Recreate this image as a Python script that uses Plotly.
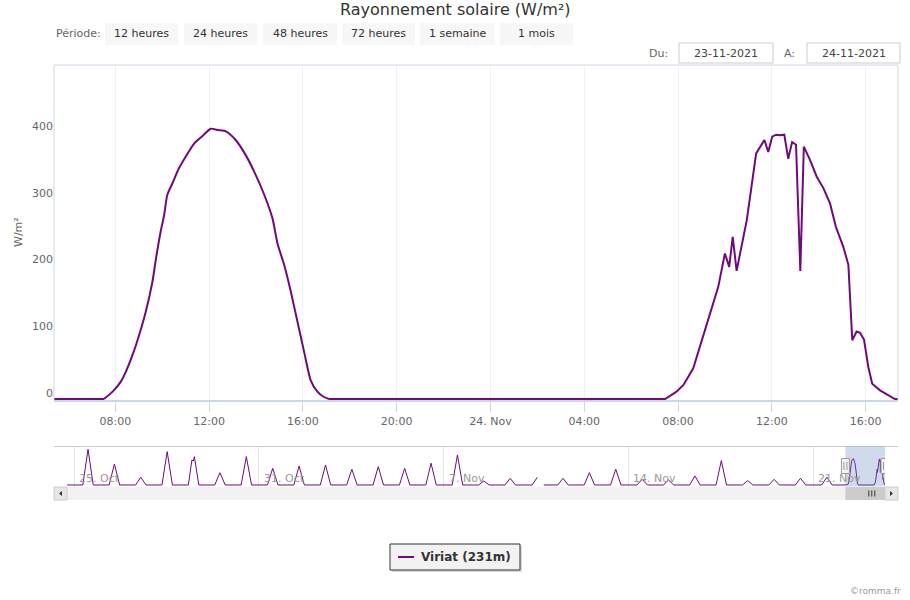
import plotly.graph_objects as go

# ---------------- data ----------------
# main series: solar radiation (W/m²), 23-24 Nov 2021
main_times = [
    "2021-11-23 05:00", "2021-11-23 07:31", "2021-11-23 07:53", "2021-11-23 08:14", "2021-11-23 08:27",
    "2021-11-23 08:44", "2021-11-23 09:01", "2021-11-23 09:18", "2021-11-23 09:35", "2021-11-23 09:45",
    "2021-11-23 09:56", "2021-11-23 10:05", "2021-11-23 10:13", "2021-11-23 10:26", "2021-11-23 10:43",
    "2021-11-23 11:00", "2021-11-23 11:22", "2021-11-23 11:43", "2021-11-23 12:04", "2021-11-23 12:21",
    "2021-11-23 12:43", "2021-11-23 13:08", "2021-11-23 13:34", "2021-11-23 13:55", "2021-11-23 14:21",
    "2021-11-23 14:42", "2021-11-23 14:55", "2021-11-23 15:12", "2021-11-23 15:29", "2021-11-23 15:46",
    "2021-11-23 16:03", "2021-11-23 16:20", "2021-11-23 16:37", "2021-11-23 16:54", "2021-11-23 17:07",
    "2021-11-24 07:27", "2021-11-24 07:56", "2021-11-24 08:14", "2021-11-24 08:39", "2021-11-24 09:01",
    "2021-11-24 09:22", "2021-11-24 09:43", "2021-11-24 10:00", "2021-11-24 10:11", "2021-11-24 10:20",
    "2021-11-24 10:30", "2021-11-24 10:56", "2021-11-24 11:20", "2021-11-24 11:41", "2021-11-24 11:51",
    "2021-11-24 12:01", "2021-11-24 12:11", "2021-11-24 12:21", "2021-11-24 12:32", "2021-11-24 12:42",
    "2021-11-24 12:52", "2021-11-24 13:02", "2021-11-24 13:13", "2021-11-24 13:22", "2021-11-24 13:38",
    "2021-11-24 13:55", "2021-11-24 14:12", "2021-11-24 14:29", "2021-11-24 14:44", "2021-11-24 15:03",
    "2021-11-24 15:16", "2021-11-24 15:26", "2021-11-24 15:37", "2021-11-24 15:46", "2021-11-24 15:56",
    "2021-11-24 16:07", "2021-11-24 16:17", "2021-11-24 16:37", "2021-11-24 16:58", "2021-11-24 17:15",
    "2021-11-24 17:23",
]
main_values = [
    0, 0, 11, 26, 41,
    66, 96, 131, 176, 214,
    251, 276, 306, 323, 346,
    363, 383, 394, 405, 403,
    401, 388, 365, 341, 306,
    271, 233, 201, 161, 116,
    71, 28, 11, 3, 0,
    0, 11, 21, 46, 88,
    128, 168, 218, 198, 243,
    192, 268, 368, 388, 370,
    393, 396, 395, 396, 360,
    385, 381, 192, 378, 358,
    333, 316, 293, 258, 228,
    201, 88, 101, 99, 89,
    48, 23, 13, 6, 0,
    0,
]

# navigator (one month): daily peak values
nav_days = [
    "2021-10-25", "2021-10-26", "2021-10-27", "2021-10-28", "2021-10-29", "2021-10-30", "2021-10-31",
    "2021-11-01", "2021-11-02", "2021-11-03", "2021-11-04", "2021-11-05", "2021-11-06", "2021-11-07",
    "2021-11-08", "2021-11-09", "2021-11-10", "2021-11-11", "2021-11-12", "2021-11-13", "2021-11-14",
    "2021-11-15", "2021-11-16", "2021-11-17", "2021-11-18", "2021-11-19", "2021-11-20", "2021-11-21",
    "2021-11-22",
]
nav_peaks = [
    546, 321, 118, 510, 433, 188, 433,
    255, 290, 306, 240, 280, 255, 332,
    459, 61, 102, 115, 102, 188, 240,
    87, 77, 138, 372, 66, 87, 102,
    118,
]
# days whose mini-chart shape is not a single peak (time, value); None = missing data
nav_special = {
    "2021-10-29": [("07:45", 0), ("11:00", 382), ("12:15", 366), ("13:15", 433), ("17:15", 0)],
    "2021-11-11": [("08:30", 0), ("13:00", 115), ("15:00", None), ("19:00", 0)],
}

x_tickvals = ["2021-11-23 08:00", "2021-11-23 12:00", "2021-11-23 16:00", "2021-11-23 20:00",
              "2021-11-24 00:00", "2021-11-24 04:00", "2021-11-24 08:00", "2021-11-24 12:00",
              "2021-11-24 16:00"]
x_ticktext = ["08:00", "12:00", "16:00", "20:00", "24. Nov", "04:00", "08:00", "12:00", "16:00"]
y_tickvals = [0, 100, 200, 300, 400]
nav_tickvals = ["2021-10-25", "2021-11-01", "2021-11-08", "2021-11-15", "2021-11-22"]
nav_ticktext = ["25. Oct", "31. Oct", "7. Nov", "14. Nov", "21. Nov"]
button_labels = ["12 heures", "24 heures", "48 heures", "72 heures", "1 semaine", "1 mois"]
date_from, date_to = "23-11-2021", "24-11-2021"
series_name = "Viriat (231m)"

# ---------------- build ----------------
W, H = 910, 600
def px(x): return x / W
def py(y): return 1 - y / H

COLOR = "#6e0a7a"
FONT = "DejaVu Sans"
view_start, view_end = "2021-11-23 05:23", "2021-11-24 17:23"
nav_start, nav_end = "2021-10-24 17:23", "2021-11-24 17:23"

nav_x, nav_y = [nav_start], [0]
for d, p in zip(nav_days, nav_peaks):
    pts = nav_special.get(d, [("07:45", 0), ("12:30", p), ("17:15", 0)])
    for t, v in pts:
        nav_x.append(f"{d} {t}")
        nav_y.append(v)
nav_x += main_times
nav_y += main_values

# day 1 (clear sky) is a smooth curve -> spline between sunrise and sunset; the rest linear
i_rise = main_times.index("2021-11-23 07:31")
i_set = main_times.index("2021-11-23 17:07")
segments = [(0, i_rise, "linear"), (i_rise, i_set, "spline"), (i_set, len(main_times) - 1, "linear")]
fig = go.Figure()
for a, b, shp in segments:
    line = dict(color=COLOR, width=2, shape=shp)
    if shp == "spline":
        line["smoothing"] = 0.6
    fig.add_trace(go.Scatter(x=main_times[a:b + 1], y=main_values[a:b + 1], mode="lines", name=series_name,
                             line=line, xaxis="x", yaxis="y", showlegend=False))
fig.add_trace(go.Scatter(x=nav_x, y=nav_y, mode="lines", name=series_name,
                         line=dict(color=COLOR, width=1), connectgaps=False,
                         xaxis="x2", yaxis="y2", showlegend=False, hoverinfo="skip"))

shapes = []
ann = []
# main plot border
shapes.append(dict(type="rect", xref="paper", yref="paper", x0=px(54), x1=px(898), y0=py(400.5), y1=py(65),
                   line=dict(color="#ccd6eb", width=1), layer="above"))
# range selector
ann.append(dict(text="Période:", x=px(54), y=py(34), xanchor="left", yanchor="middle",
                font=dict(size=11, color="#666666")))
btn_boxes = [(105, 178), (184, 257.5), (263, 337), (342, 415), (420, 494.5), (500, 573)]
for (b0, b1), lab in zip(btn_boxes, button_labels):
    shapes.append(dict(type="rect", xref="paper", yref="paper", x0=px(b0), x1=px(b1), y0=py(45), y1=py(23),
                       fillcolor="#f7f7f7", line=dict(width=0)))
    ann.append(dict(text=lab, x=px((b0 + b1) / 2), y=py(34), xanchor="center", yanchor="middle",
                    font=dict(size=11, color="#333333")))
# date inputs
ann.append(dict(text="Du:", x=px(670), y=py(53), xanchor="right", yanchor="middle",
                font=dict(size=11, color="#666666")))
ann.append(dict(text="A:", x=px(797), y=py(53), xanchor="right", yanchor="middle",
                font=dict(size=11, color="#666666")))
for (b0, b1), txt in zip([(679, 773), (807, 900)], [date_from, date_to]):
    shapes.append(dict(type="rect", xref="paper", yref="paper", x0=px(b0), x1=px(b1), y0=py(63), y1=py(43),
                       fillcolor="white", line=dict(color="#cccccc", width=1)))
    ann.append(dict(text=txt, x=px((b0 + b1) / 2), y=py(53), xanchor="center", yanchor="middle",
                    font=dict(size=11, color="#444444")))
# title
ann.append(dict(text="Rayonnement solaire (W/m²)", x=px(455), y=py(9), xanchor="center", yanchor="middle",
                font=dict(size=16, color="#333333")))
# y axis title
ann.append(dict(text="W/m²", x=px(18), y=py(232), xanchor="center", yanchor="middle", textangle=-90,
                font=dict(size=11, color="#666666")))

# navigator
shapes.append(dict(type="line", xref="paper", yref="paper", x0=px(54), x1=px(898), y0=py(446.5), y1=py(446.5),
                   line=dict(color="#cccccc", width=1)))
shapes.append(dict(type="rect", xref="x2", yref="paper", x0=view_start, x1=view_end, y0=py(486.5), y1=py(446.5),
                   fillcolor="rgba(102,133,194,0.3)", line=dict(width=0)))
for tv, tt in zip(nav_tickvals, nav_ticktext):
    ann.append(dict(text=tt, x=tv, xref="x2", xshift=3, y=py(478), xanchor="left", yanchor="middle",
                    font=dict(size=11, color="#999999")))
# scrollbar
shapes.append(dict(type="rect", xref="paper", yref="paper", x0=px(67), x1=px(885), y0=py(500), y1=py(487),
                   fillcolor="#f2f2f2", line=dict(width=0)))
for b0, b1 in [(54, 67), (885, 898)]:
    shapes.append(dict(type="rect", xref="paper", yref="paper", x0=px(b0), x1=px(b1), y0=py(500), y1=py(487),
                       fillcolor="#e6e6e6", line=dict(color="#cccccc", width=1)))
shapes.append(dict(type="path", xref="paper", yref="paper",
                   path=f"M {px(59)} {py(493.5)} L {px(62)} {py(491)} L {px(62)} {py(496)} Z",
                   fillcolor="#333333", line=dict(width=0)))
shapes.append(dict(type="path", xref="paper", yref="paper",
                   path=f"M {px(893)} {py(493.5)} L {px(890)} {py(491)} L {px(890)} {py(496)} Z",
                   fillcolor="#333333", line=dict(width=0)))
shapes.append(dict(type="rect", xref="x2", yref="paper", x0=view_start, x1=view_end, y0=py(500), y1=py(487),
                   fillcolor="#cccccc", line=dict(width=0)))
for off in (-3, 0, 3):
    shapes.append(dict(type="line", xref="x2", xsizemode="pixel", xanchor="2021-11-24 05:23",
                       x0=off, x1=off, yref="paper", y0=py(490.5), y1=py(496.5),
                       line=dict(color="#333333", width=1)))
# handles
for anchor in (view_start, view_end):
    shapes.append(dict(type="rect", xref="x2", xsizemode="pixel", xanchor=anchor, x0=-4, x1=4,
                       yref="paper", y0=py(473.5), y1=py(458.5),
                       fillcolor="#f2f2f2", line=dict(color="#999999", width=1), layer="above"))
    for off in (-1.5, 1.5):
        shapes.append(dict(type="line", xref="x2", xsizemode="pixel", xanchor=anchor, x0=off, x1=off,
                           yref="paper", y0=py(462), y1=py(470),
                           line=dict(color="#999999", width=1), layer="above"))

# legend (Highcharts-style box)
shapes.append(dict(type="rect", xref="paper", yref="paper", x0=px(392), x1=px(522), y0=py(572), y1=py(546),
                   fillcolor="rgba(0,0,0,0.15)", line=dict(width=0)))
shapes.append(dict(type="rect", xref="paper", yref="paper", x0=px(390), x1=px(520), y0=py(570), y1=py(544),
                   fillcolor="#f2f2f2", line=dict(color="#333333", width=1)))
shapes.append(dict(type="line", xref="paper", yref="paper", x0=px(398), x1=px(414), y0=py(557), y1=py(557),
                   line=dict(color=COLOR, width=2)))
ann.append(dict(text=f"<b>{series_name}</b>", x=px(419), y=py(557), xanchor="left", yanchor="middle",
                font=dict(size=12, color="#333333")))
# credits
ann.append(dict(text="©romma.fr", x=px(903), y=py(591), xanchor="right", yanchor="middle",
                font=dict(size=9, color="#999999")))

for a in ann:
    a.setdefault("xref", "paper")
    a.setdefault("yref", "paper")
    a["showarrow"] = False

fig.update_layout(
    width=W, height=H, margin=dict(l=0, r=0, t=0, b=0),
    paper_bgcolor="white", plot_bgcolor="white",
    font=dict(family=FONT, size=11, color="#666666"),
    showlegend=False,
    xaxis=dict(domain=[px(54), px(898)], anchor="y", type="date", range=[view_start, view_end],
               tickmode="array", tickvals=x_tickvals, ticktext=x_ticktext,
               ticks="outside", ticklen=10, tickcolor="#ccd6eb",
               showgrid=True, gridcolor="#eef1f6", gridwidth=1, zeroline=False,
               showline=True, linecolor="#ccd6eb", tickfont=dict(size=11, color="#666666")),
    yaxis=dict(domain=[py(400.5), py(65)], anchor="x", range=[-2.25, 500.4],
               tickmode="array", tickvals=y_tickvals, showgrid=False, zeroline=False,
               ticks="", ticklabelshift=-6, tickfont=dict(size=11, color="#666666")),
    xaxis2=dict(domain=[px(67), px(885)], anchor="y2", type="date", range=[nav_start, nav_end],
                tickmode="array", tickvals=nav_tickvals, showticklabels=False, ticks="",
                showgrid=True, gridcolor="#e6e6e6", zeroline=False, showline=False),
    yaxis2=dict(domain=[py(486.5), py(446.5)], anchor="x2", range=[-23, 588], visible=False,
                showgrid=False, zeroline=False),
    shapes=shapes, annotations=ann,
)

fig.write_html("out.html")
